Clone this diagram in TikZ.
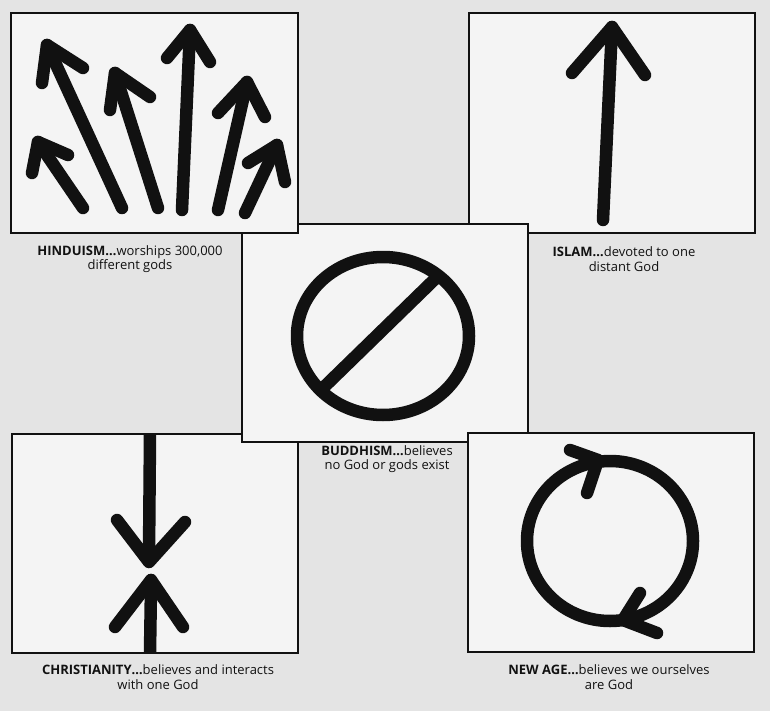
\documentclass[tikz,border=0pt]{standalone}
\usepackage{fontspec}
\setmainfont{Open Sans}
\definecolor{bg}{HTML}{E4E4E4}
\definecolor{panel}{HTML}{F4F4F4}
\definecolor{ink}{HTML}{111111}
\begin{document}
\begin{tikzpicture}[x=1pt,y=-1pt,
  panelbox/.style={draw=ink, line width=2.6pt, fill=panel},
  glyph/.style={draw=ink, line width=12.5pt, line cap=round, line join=round},
  shaft/.style={draw=ink, line width=12.5pt, line cap=butt},
  caption/.style={font=\fontsize{13}{14.5}\selectfont, align=center, text=ink, inner sep=0pt}]
\fill[bg] (0,0) rectangle (770,711);
\useasboundingbox (0,0) rectangle (770,711);

% Christianity
\path[panelbox] (12,434) rectangle (298,653);
\draw[shaft] (150,434) -- (149,556);
\draw[glyph] (117,520) -- (149,562) -- (185,522);
\draw[shaft] (151,586) -- (150,653);
\draw[glyph] (115,627) -- (151,580) -- (183,627);
\draw[glyph] (151,580) -- (151,600);

% Islam
\path[panelbox] (469,13) rectangle (755,233);
\draw[glyph] (603,220) -- (612,27);
\draw[glyph] (572,73) -- (612,27) -- (645,75);

% Buddhism
\path[panelbox] (242,224) rectangle (528,442);
\draw[glyph] (383,336) ellipse [x radius=86, y radius=79];
\draw[glyph] (323,388) -- (437,277);

% Hinduism
\path[panelbox] (11,13) rectangle (298,233);
\draw[glyph] (83,208) -- (38,142);
\draw[glyph] (32,173) -- (38,142) -- (68,155);
\draw[glyph] (122,208) -- (47,45);
\draw[glyph] (42,83) -- (47,45) -- (83,68);
\draw[glyph] (158,208) -- (115,73);
\draw[glyph] (110,110) -- (115,73) -- (150,97);
\draw[glyph] (182,210) -- (190,30);
\draw[glyph] (167,58) -- (190,30) -- (210,62);
\draw[glyph] (218,210) -- (247,82);
\draw[glyph] (218,113) -- (247,82) -- (265,117);
\draw[glyph] (245,213) -- (277,145);
\draw[glyph] (248,163) -- (277,145) -- (285,182);

% New Age
\path[panelbox] (468,433) rectangle (754,652);
\draw[glyph] (610,541) ellipse [x radius=83, y radius=80];
\draw[glyph] (570,450) -- (598,460) -- (587,493);
\draw[glyph] (640,593) -- (623,620) -- (657,633);

% captions
\node[caption] (capH) at (130,259) {\textbf{HINDUISM…}worships 300,000\\different gods};
\node[caption] (capI) at (624,259) {\textbf{ISLAM…}devoted to one\\distant God};
\node[caption] (capB) at (387,459) {\textbf{BUDDHISM…}believes\\no God or gods exist};
\node[caption] (capC) at (158,677) {\textbf{CHRISTIANITY…}believes and interacts\\with one God};
\node[caption] (capN) at (609,677) {\textbf{NEW AGE…}believes we ourselves\\are God};
\end{tikzpicture}
\end{document}
